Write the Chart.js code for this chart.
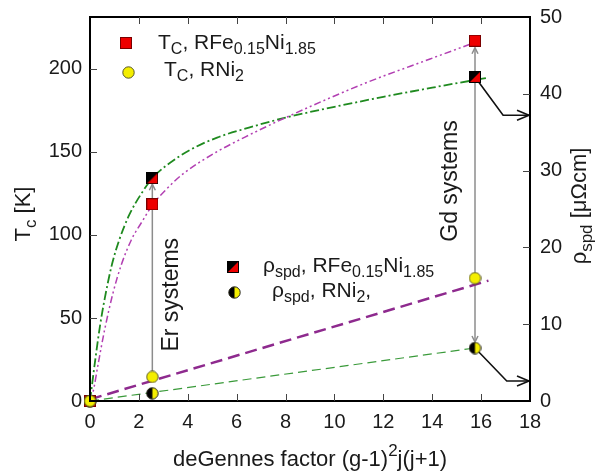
<!DOCTYPE html>
<html><head><meta charset="utf-8">
<script src="https://cdn.jsdelivr.net/npm/chart.js@4/dist/chart.umd.min.js"></script>
<style>html,body{margin:0;padding:0;background:#fff}#wrap{width:597px;height:473px}</style>
</head><body><div id="wrap"><canvas id="c" width="597" height="473"></canvas></div>
<script>
const FONT = '"Liberation Sans", Arial, Helvetica, sans-serif';

// ---- data ----
const deGennes = [0, 2.55, 15.75];          // Er: 2.55, Gd: 15.75
const tcRFe    = [0, 118.5, 217];           // Tc RFe0.15Ni1.85 [K]
const tcRNi2   = [0, 14.5, 74];             // Tc RNi2 [K]
const rhoRFe   = [0, 29.0, 42.2];           // rho_spd RFe0.15Ni1.85 [uOhm cm]
const rhoRNi2  = [0, 1.0, 6.9];             // rho_spd RNi2 [uOhm cm]

// fitted curves
const fitTcX  = [0, 0.12, 0.33, 0.60, 0.94, 1.28, 1.69, 2.17, 2.55, 3.12, 3.82, 5.18, 6.55, 8.05, 11.18, 13.91, 15.75];
const fitTcY  = [0, 5, 22, 43, 65, 82, 97, 109, 118, 127.5, 137, 150, 160.5, 171, 191, 206, 216];
const fitRhoX = [0, 0.2, 0.4, 0.6, 0.9, 1.2, 1.6, 2.1, 2.55, 3.1, 4.1, 5.2, 6.5, 8, 10, 12, 14, 15.75, 16.2];
const fitRhoY = [0, 5, 9.6, 13.3, 17.8, 21.0, 24.2, 27.0, 29.0, 30.6, 32.7, 34.3, 35.6, 36.9, 38.3, 39.6, 40.8, 41.8, 42.05];
const linTcX  = [0, 16.3];
const linTcY  = [1, 72.5];
const linRhoX = [0, 15.75];
const linRhoY = [0, 6.9];

// ticks
const xTicks = [0, 2, 4, 6, 8, 10, 12, 14, 16, 18];
const yTicks = [0, 50, 100, 150, 200];
const y2Ticks = [0, 10, 20, 30, 40, 50];
const yMax = 231.3, y2Max = 50;

// annotations
const annotText = ['Er systems', 'Gd systems'];
const annotX = [3.33, 14.77];
const annotY = [64, 132.5];
const elbowX = [16.9, 17.05];
const elbowRho = [37.2, 2.6];

// ---- point style canvases ----
function mk(w, h, f){ const c=document.createElement('canvas'); c.width=w; c.height=h; f(c.getContext('2d')); return c; }
const redSq = mk(12,12,g=>{ g.fillStyle='#ee0000'; g.fillRect(0.5,0.5,11,11); g.strokeStyle='#7a0000'; g.lineWidth=1; g.strokeRect(0.5,0.5,11,11); });
const yelC = mk(13,13,g=>{ g.beginPath(); g.arc(6.5,6.5,5.7,0,Math.PI*2); g.fillStyle='#f4ee00'; g.fill(); g.strokeStyle='#55552a'; g.lineWidth=1; g.stroke(); });
const halfSq = mk(12,12,g=>{ g.fillStyle='#ee0000'; g.fillRect(0.5,0.5,11,11);
  g.beginPath(); g.moveTo(0.5,0.5); g.lineTo(11.5,0.5); g.lineTo(0.5,11.5); g.closePath(); g.fillStyle='#000'; g.fill();
  g.strokeStyle='#000'; g.lineWidth=1; g.strokeRect(0.5,0.5,11,11); });
const halfC = mk(13,13,g=>{ g.beginPath(); g.arc(6.5,6.5,5.7,0,Math.PI*2); g.fillStyle='#f4ee00'; g.fill();
  g.beginPath(); g.arc(6.5,6.5,5.7,Math.PI/2,Math.PI*1.5); g.closePath(); g.fillStyle='#000'; g.fill();
  g.beginPath(); g.arc(6.5,6.5,5.7,0,Math.PI*2); g.strokeStyle='#222'; g.lineWidth=1; g.stroke(); });

const pts = (xs, ys) => xs.map((x,i)=>({x, y: ys[i]}));

// ---- rich text ----
function richWidth(ctx, parts, size){
  let w=0; for(const [t,k] of parts){ ctx.font = (k==='n'?size:Math.round(size*0.75))+'px '+FONT; w+=ctx.measureText(t).width; } return w;
}
function drawRich(ctx, x, y, parts, size){
  ctx.textBaseline='alphabetic'; ctx.textAlign='left';
  for(const [t,k] of parts){
    const s = k==='n'?size:Math.round(size*0.75);
    ctx.font = s+'px '+FONT;
    const dy = k==='sub'? size*0.26 : (k==='sup'? -size*0.45 : 0);
    ctx.fillText(t, x, y+dy); x += ctx.measureText(t).width;
  }
}

function arrowHead(ctx, x1, y1, x2, y2, len, half, filled){
  const a = Math.atan2(y2-y1, x2-x1);
  const bx = x2 - len*Math.cos(a), by = y2 - len*Math.sin(a);
  const nx = -Math.sin(a)*half, ny = Math.cos(a)*half;
  ctx.beginPath(); ctx.moveTo(bx+nx, by+ny); ctx.lineTo(x2,y2); ctx.lineTo(bx-nx, by-ny);
  if(filled){ ctx.closePath(); ctx.fill(); } else ctx.stroke();
}

const decor = {
  id:'decor',
  beforeDatasetsDraw(chart){
    const ctx = chart.ctx, sx = chart.scales.x, sy = chart.scales.y, s2 = chart.scales.y2;
    ctx.save();
    ctx.strokeStyle = '#8c8c8c'; ctx.fillStyle='#8c8c8c'; ctx.lineWidth = 1.5;
    let x = sx.getPixelForValue(deGennes[1]);
    let yA = sy.getPixelForValue(tcRNi2[1]) - 6, yB = s2.getPixelForValue(rhoRFe[1]) + 6;
    ctx.beginPath(); ctx.moveTo(x,yA); ctx.lineTo(x,yB); ctx.stroke();
    arrowHead(ctx, x, yA, x, yB, 6, 3, false);
    x = sx.getPixelForValue(deGennes[2]);
    yA = s2.getPixelForValue(rhoRNi2[2]) - 6; yB = sy.getPixelForValue(tcRFe[2]) + 7;
    ctx.beginPath(); ctx.moveTo(x,yA); ctx.lineTo(x,yB); ctx.stroke();
    arrowHead(ctx, x, yA, x, yB, 6, 3, false);
    arrowHead(ctx, x, yB, x, yA, 6, 3, false);
    ctx.strokeStyle = '#111'; ctx.lineWidth = 1.6;
    const srcs = [rhoRFe[2], rhoRNi2[2]];
    for(let i=0;i<2;i++){
      const x0 = sx.getPixelForValue(deGennes[2]), y0 = s2.getPixelForValue(srcs[i]);
      const xe = sx.getPixelForValue(elbowX[i]), ye = s2.getPixelForValue(elbowRho[i]);
      const xt = chart.chartArea.right - 1;
      ctx.beginPath(); ctx.moveTo(x0,y0); ctx.lineTo(xe,ye); ctx.lineTo(xt,ye); ctx.stroke();
      arrowHead(ctx, xe, ye, xt, ye, 12, 5, false);
    }
    ctx.restore();
  },
  afterDraw(chart){
    const ctx = chart.ctx, a = chart.chartArea, sx = chart.scales.x, sy = chart.scales.y, s2 = chart.scales.y2;
    ctx.save();
    ctx.strokeStyle = '#000'; ctx.lineWidth = 2;
    ctx.strokeRect(a.left, a.top, a.right-a.left, a.bottom-a.top);
    ctx.strokeStyle = '#444'; ctx.lineWidth = 1; const L = 7;
    ctx.beginPath();
    for(const v of xTicks){ if(v===0||v===18) continue; const p=Math.round(sx.getPixelForValue(v))+0.5;
      ctx.moveTo(p,a.bottom); ctx.lineTo(p,a.bottom-L); ctx.moveTo(p,a.top); ctx.lineTo(p,a.top+L); }
    for(const v of yTicks){ if(v===0) continue; const p=Math.round(sy.getPixelForValue(v))+0.5; ctx.moveTo(a.left,p); ctx.lineTo(a.left+L,p); }
    for(const v of y2Ticks){ if(v===0||v===50) continue; const p=Math.round(s2.getPixelForValue(v))+0.5; ctx.moveTo(a.right,p); ctx.lineTo(a.right-L,p); }
    ctx.stroke();

    ctx.fillStyle = '#1a1a1a';
    const xt = [['deGennes factor (g-1)','n'],['2','sup'],['j(j+1)','n']];
    const wX = richWidth(ctx, xt, 22);
    drawRich(ctx, (a.left+a.right)/2 - wX/2, 466, xt, 22);
    const lt = [['T','n'],['c','sub'],[' [K]','n']];
    ctx.save(); ctx.translate(22, 214); ctx.rotate(-Math.PI/2);
    drawRich(ctx, -richWidth(ctx, lt, 22)/2, 8, lt, 22); ctx.restore();
    const rt = [['\u03C1','n'],['spd','sub'],[' [\u03BC\u03A9cm]','n']];
    ctx.save(); ctx.translate(578, 206); ctx.rotate(-Math.PI/2);
    drawRich(ctx, -richWidth(ctx, rt, 22)/2, 8, rt, 22); ctx.restore();

    for(let i=0;i<annotText.length;i++){
      const px = sx.getPixelForValue(annotX[i]), py = sy.getPixelForValue(annotY[i]);
      ctx.save(); ctx.translate(px, py); ctx.rotate(-Math.PI/2);
      ctx.font = '23px '+FONT; ctx.textAlign='center'; ctx.textBaseline='middle';
      ctx.fillText(annotText[i], 0, 0); ctx.restore();
    }

    const items = [
      {img: redSq, mx:126, my:43, tx:158, ty:48.5, parts:[['T','n'],['C','sub'],[', RFe','n'],['0.15','sub'],['Ni','n'],['1.85','sub']]},
      {img: yelC, mx:128, my:72, tx:164, ty:75.5, parts:[['T','n'],['C','sub'],[', RNi','n'],['2','sub']]},
      {img: halfSq, mx:233, my:267, tx:263, ty:272, parts:[['\u03C1','n'],['spd','sub'],[', RFe','n'],['0.15','sub'],['Ni','n'],['1.85','sub']]},
      {img: halfC, mx:234, my:292, tx:272, ty:297, parts:[['\u03C1','n'],['spd','sub'],[', RNi','n'],['2','sub'],[',','n']]},
    ];
    for(const it of items){
      ctx.drawImage(it.img, Math.round(it.mx - it.img.width/2), Math.round(it.my - it.img.height/2));
      drawRich(ctx, it.tx, it.ty, it.parts, 21);
    }
    ctx.restore();
  }
};

const tickFont = {family: FONT, size: 20};
const mark = (label, xs, ys, axis, style) => ({label, data: pts(xs, ys), yAxisID: axis, showLine:false, pointStyle: style, pointRadius:6, clip:false});
const noPad = s => { s.paddingTop = 0; s.paddingBottom = 0; };
new Chart(document.getElementById('c'), {
  type: 'line',
  data: {
    datasets: [
      mark('Tc RNi2', deGennes, tcRNi2, 'y', yelC),
      mark('rho RNi2', deGennes, rhoRNi2, 'y2', halfC),
      mark('Tc RFe', deGennes, tcRFe, 'y', redSq),
      mark('rho RFe', deGennes, rhoRFe, 'y2', halfSq),
      {label:'fit Tc', data: pts(fitTcX, fitTcY), yAxisID:'y', borderColor:'#b23fb2', borderWidth:1.5, borderDash:[7,3,2,3,2,3], pointRadius:0, cubicInterpolationMode:'monotone', fill:false},
      {label:'fit rho', data: pts(fitRhoX, fitRhoY), yAxisID:'y2', borderColor:'#1f8a1f', borderWidth:1.8, borderDash:[9,3,2,3], pointRadius:0, cubicInterpolationMode:'monotone', fill:false},
      {label:'lin Tc', data: pts(linTcX, linTcY), yAxisID:'y', borderColor:'#8e2a8e', borderWidth:2.5, borderDash:[12,6], pointRadius:0, fill:false},
      {label:'lin rho', data: pts(linRhoX, linRhoY), yAxisID:'y2', borderColor:'#3a9a3a', borderWidth:1.2, borderDash:[9,5], pointRadius:0, fill:false},
    ]
  },
  options: {
    responsive:false, animation:false, devicePixelRatio:1,
    layout:{padding:{top:17, left:0, right:0, bottom:0}},
    plugins:{legend:{display:false}, tooltip:{enabled:false}},
    scales:{
      x:{type:'linear', position:'bottom', min:0, max:18,
        grid:{display:false, drawTicks:false}, border:{display:false},
        ticks:{font:tickFont, color:'#1a1a1a', padding:9, maxRotation:0, autoSkip:false},
        afterBuildTicks: s => { s.ticks = xTicks.map(v=>({value:v})); },
        afterFit: s => { s.height = 72; s.paddingLeft = 0; s.paddingRight = 0; }},
      y:{type:'linear', position:'left', min:0, max:yMax,
        grid:{display:false, drawTicks:false}, border:{display:false},
        ticks:{font:tickFont, color:'#1a1a1a', padding:8, autoSkip:false},
        afterBuildTicks: s => { s.ticks = yTicks.map(v=>({value:v})); },
        afterFit: s => { s.width = 90; noPad(s); }},
      y2:{type:'linear', position:'right', min:0, max:y2Max,
        grid:{display:false, drawTicks:false}, border:{display:false},
        ticks:{font:tickFont, color:'#1a1a1a', padding:10, autoSkip:false},
        afterBuildTicks: s => { s.ticks = y2Ticks.map(v=>({value:v})); },
        afterFit: s => { s.width = 67; noPad(s); }}
    }
  },
  plugins:[decor]
});
</script></body></html>
